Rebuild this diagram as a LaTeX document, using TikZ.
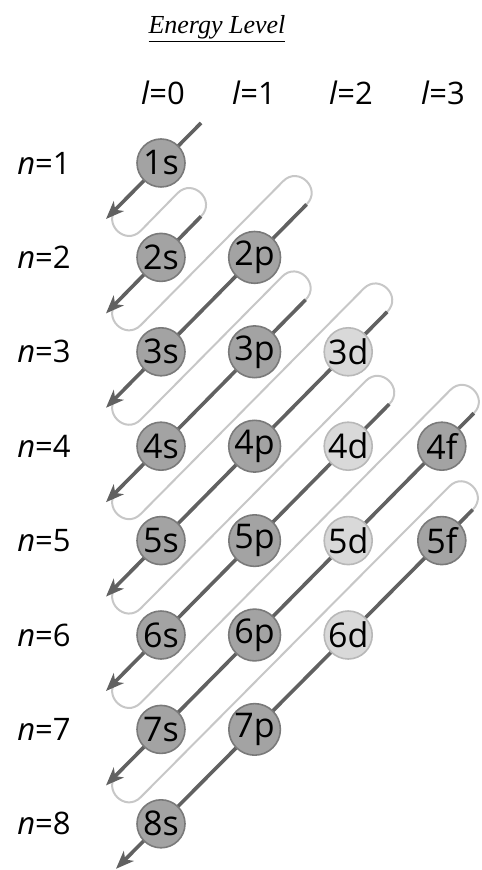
\documentclass[tikz,border=0pt]{standalone}
\usepackage{fontspec}
\setmainfont{Open Sans}
\newfontfamily\titlefont{Liberation Serif}
\usetikzlibrary{arrows.meta, calc}
\pgfdeclarelayer{background}
\pgfsetlayers{background,main}
\colorlet{arrowgray}{black!62}
\colorlet{loopgray}{black!22}
\colorlet{balldark}{black!36}
\colorlet{ballrim}{black!52}
\colorlet{balllight}{black!15}
\colorlet{balllightrim}{black!28}

\tikzset{
  orb/.style={circle, minimum size=24pt, inner sep=0pt, fill=balldark,
    draw=ballrim, line width=0.8pt, font=\fontsize{17}{19}\selectfont},
  orblight/.style={orb, fill=balllight, draw=balllightrim},
  lab/.style={font=\fontsize{15.5}{18}\selectfont},
  diag/.style={draw=arrowgray, line width=1.8pt,
    -{Stealth[length=9pt, width=7pt, inset=2.5pt]}},
  backloop/.style={draw=loopgray, line width=1pt, line cap=round,
    to path={($(\tikztostart)+(11.2,-11.4)$)
      .. controls ($(\tikztostart)+(-4.3,4.2)$) and ($(\tikztostart)+(19.2,27.4)$) .. ($(\tikztostart)+(34.7,11.8)$)
      -- ($(\tikztotarget)+(-23.5,-23.2)$)
      .. controls ($(\tikztotarget)+(-8,-38.8)$) and ($(\tikztotarget)+(15.5,-15.6)$) .. (\tikztotarget)}}
}

\begin{document}
\begin{tikzpicture}[x=0.5pt, y=-0.5pt]
    \useasboundingbox (0,0) rectangle (481,870);

    % Title & column labels
    \node[font=\titlefont\itshape\fontsize{13}{15}\selectfont] (head) at (217,29) {\underline{Energy Level}};
    \node[lab] (l0) at (163,93) {\textit{l}=0};
    \node[lab] (l1) at (254,93) {\textit{l}=1};
    \node[lab] (l2) at (351,93) {\textit{l}=2};
    \node[lab] (l3) at (443,93) {\textit{l}=3};

    % Row labels
    \node[lab] (n1) at (44,163) {\textit{n}=1};
    \node[lab] (n2) at (44,257.4) {\textit{n}=2};
    \node[lab] (n3) at (44,351.8) {\textit{n}=3};
    \node[lab] (n4) at (44,446.2) {\textit{n}=4};
    \node[lab] (n5) at (44,540.6) {\textit{n}=5};
    \node[lab] (n6) at (44,635) {\textit{n}=6};
    \node[lab] (n7) at (44,729.4) {\textit{n}=7};
    \node[lab] (n8) at (44,823.8) {\textit{n}=8};

    % Orbitals
    \node[orb] (s1) at (161,163) {1s};
    \node[orb] (s2) at (161,257.4) {2s};
    \node[orb] (p2) at (254.6,257.4) {2p};
    \node[orb] (s3) at (161,351.8) {3s};
    \node[orb] (p3) at (254.6,351.8) {3p};
    \node[orblight] (d3) at (348.2,351.8) {3d};
    \node[orb] (s4) at (161,446.2) {4s};
    \node[orb] (p4) at (254.6,446.2) {4p};
    \node[orblight] (d4) at (348.2,446.2) {4d};
    \node[orb] (f4) at (441.8,446.2) {4f};
    \node[orb] (s5) at (161,540.6) {5s};
    \node[orb] (p5) at (254.6,540.6) {5p};
    \node[orblight] (d5) at (348.2,540.6) {5d};
    \node[orb] (f5) at (441.8,540.6) {5f};
    \node[orb] (s6) at (161,635) {6s};
    \node[orb] (p6) at (254.6,635) {6p};
    \node[orblight] (d6) at (348.2,635) {6d};
    \node[orb] (s7) at (161,729.4) {7s};
    \node[orb] (p7) at (254.6,729.4) {7p};
    \node[orb] (s8) at (161,823.8) {8s};

    % Diagonal ends
    \coordinate (top1) at ($(s1)+(40,-40)$);
    \coordinate (top2) at ($(s2)+(40,-41)$);
    \coordinate (top3) at ($(p2)+(52,-53)$);
    \coordinate (top4) at ($(p3)+(51,-52)$);
    \coordinate (top5) at ($(d3)+(39,-40)$);
    \coordinate (top6) at ($(d4)+(41,-42)$);
    \coordinate (top7) at ($(f4)+(32,-33)$);
    \coordinate (top8) at ($(f5)+(31,-31)$);
    \coordinate (tip1) at ($(s1)+(-55,56)$);
    \coordinate (tip2) at ($(s2)+(-55,56)$);
    \coordinate (tip3) at ($(s3)+(-55,56)$);
    \coordinate (tip4) at ($(s4)+(-55,56)$);
    \coordinate (tip5) at ($(s5)+(-55,56)$);
    \coordinate (tip6) at ($(s6)+(-55,56)$);
    \coordinate (tip7) at ($(s7)+(-55,56)$);
    \coordinate (tip8) at ($(s8)+(-45,45)$);

    \begin{pgfonlayer}{background}
    % Return loops
    \draw[backloop] (tip1) to (top2);
    \draw[backloop] (tip2) to (top3);
    \draw[backloop] (tip3) to (top4);
    \draw[backloop] (tip4) to (top5);
    \draw[backloop] (tip5) to (top6);
    \draw[backloop] (tip6) to (top7);
    \draw[backloop] (tip7) to (top8);

    % Filling order arrows
    \draw[diag] (top1) -- (tip1);
    \draw[diag] (top2) -- (tip2);
    \draw[diag] (top3) -- (tip3);
    \draw[diag] (top4) -- (tip4);
    \draw[diag] (top5) -- (tip5);
    \draw[diag] (top6) -- (tip6);
    \draw[diag] (top7) -- (tip7);
    \draw[diag] (top8) -- (tip8);
    \end{pgfonlayer}
\end{tikzpicture}
\end{document}
